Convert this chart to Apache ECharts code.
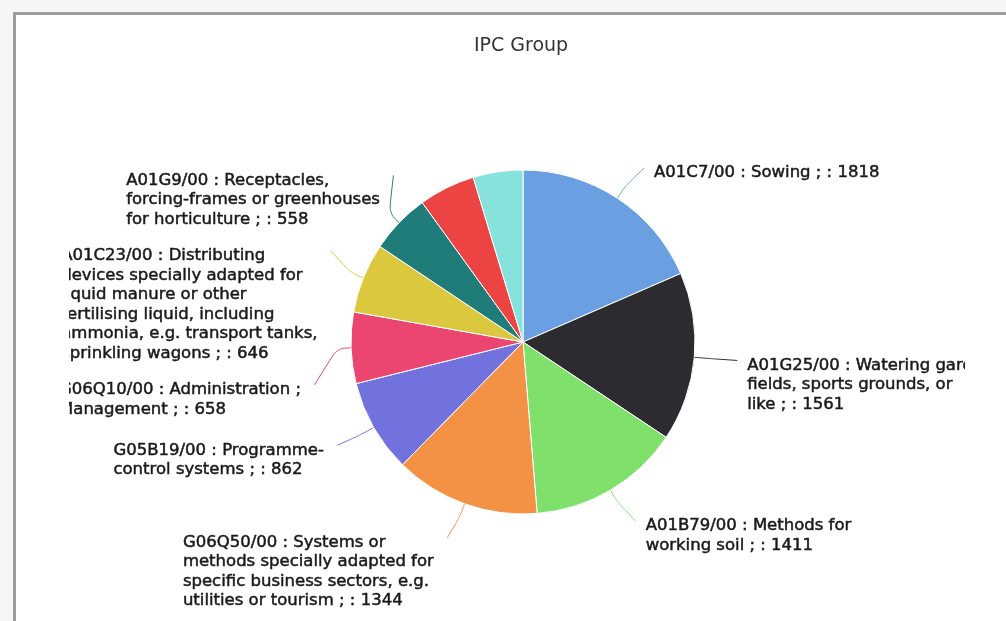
<!DOCTYPE html>
<html><head><meta charset="utf-8">
<script src="https://cdn.jsdelivr.net/npm/echarts@6/dist/echarts.min.js"></script>
<style>
html,body{margin:0;padding:0;background:#f6f6f6;width:1006px;height:621px;overflow:hidden;}
#frame{position:absolute;left:13px;top:12px;width:1100px;height:700px;border-left:3px solid #9c9c9c;border-top:3px solid #9c9c9c;background:#fff;}
#chart{position:absolute;left:69px;top:16px;width:896px;height:605px;}
</style></head><body>
<div id="frame"></div>
<div id="chart"></div>
<script>
const title = 'IPC Group';
const categories = [
  'A01C7/00 : Sowing ;',
  'A01G25/00 : Watering gardens,\nfields, sports grounds, or\nlike ;',
  'A01B79/00 : Methods for\nworking soil ;',
  'G06Q50/00 : Systems or\nmethods specially adapted for\nspecific business sectors, e.g.\nutilities or tourism ;',
  'G05B19/00 : Programme-\ncontrol systems ;',
  'G06Q10/00 : Administration ;\nManagement ;',
  'A01C23/00 : Distributing\ndevices specially adapted for\nliquid manure or other\nfertilising liquid, including\nammonia, e.g. transport tanks,\nsprinkling wagons ;',
  'A01G9/00 : Receptacles,\nforcing-frames or greenhouses\nfor horticulture ;',
  'Group 9 ;',
  'Group 10 ;'
];
const values = [1818, 1561, 1411, 1344, 862, 658, 646, 558, 520, 460];
const labelShown = [true, true, true, true, true, true, true, true, false, false];
const colors = ['#6a9fe2', '#2c2c30', '#80e06c', '#f39245', '#7272df', '#eb4670', '#dcc83e', '#1f7c79', '#ec4343', '#86e2da'];

// pie geometry (chart coordinates)
const CX = 454, CY = 326, RADIUS = 172, DIST = 36, LH = 19.5, GAP = 17, TOPOFF = 4.75;

function computeLabels() {
  const total = values.reduce((a, b) => a + b, 0);
  let acc = 0;
  const items = values.map((v, i) => {
    const theta = (acc + v / 2) / total * 2 * Math.PI;
    acc += v;
    const right = Math.sin(theta) >= 0;
    const lines = (categories[i] + ' : ' + v).split('\n').length;
    const endY = CY - (RADIUS + DIST) * Math.cos(theta);
    return { i, theta, right, h: lines * LH, top: endY - TOPOFF, show: labelShown[i] };
  });
  [true, false].forEach(side => {
    const list = items.filter(it => it.show && it.right === side).sort((a, b) => a.top - b.top);
    for (let k = 0; k < 400; k++) {
      for (let j = 0; j < list.length - 1; j++) {
        const a = list[j], b = list[j + 1];
        const ov = a.top + a.h + GAP - b.top;
        if (ov > 0) { a.top -= ov / 2; b.top += ov / 2; }
      }
    }
  });
  items.forEach(it => {
    it.endY = it.top + TOPOFF;
    const RR = RADIUS + DIST, dy = it.endY - CY;
    const dx = Math.sqrt(Math.max(0, RR * RR - dy * dy));
    it.xc = it.right ? CX + dx : CX - dx;
  });
  return items;
}
const LAYOUT = computeLabels();

const chart = echarts.init(document.getElementById('chart'));
chart.setOption({
  animation: false,
  title: {
    text: title, left: 447, textAlign: 'center', top: 16,
    textStyle: { fontFamily: 'DejaVu Sans', fontSize: 19, fontWeight: 'normal', color: '#333' }
  },
  series: [{
    type: 'pie',
    center: [CX, CY],
    radius: RADIUS,
    startAngle: 90,
    clockwise: true,
    avoidLabelOverlap: false,
    itemStyle: { borderColor: '#fff', borderWidth: 1 },
    label: {
      formatter: '{b} : {c}',
      fontFamily: 'DejaVu Sans', fontSize: 16.5, fontWeight: 'normal', lineHeight: LH,
      color: '#1a1a1a', textBorderColor: '#1a1a1a', textBorderWidth: 0.5
    },
    labelLine: { length: 20, length2: 12, smooth: 0.35, lineStyle: { width: 1 } },
    labelLayout: function (params) {
      const it = LAYOUT[params.dataIndex];
      if (!it || !it.show) return {};
      const w = params.labelRect.width;
      const x = it.right ? it.xc + 17 : it.xc - 18 - w;
      const p0 = [CX + RADIUS * Math.sin(it.theta), CY - RADIUS * Math.cos(it.theta)];
      const p1 = [CX + (RADIUS + 14) * Math.sin(it.theta), CY - (RADIUS + 14) * Math.cos(it.theta)];
      const p2 = [it.right ? it.xc + 7 : it.xc - 5, it.endY];
      return { x: x, y: it.top, align: 'left', verticalAlign: 'top', labelLinePoints: [p0, p1, p2] };
    },
    data: categories.map((n, i) => ({
      name: n, value: values[i],
      itemStyle: { color: colors[i] },
      label: { show: labelShown[i] },
      labelLine: { show: labelShown[i], lineStyle: { color: colors[i] } }
    }))
  }]
});
</script>
</body></html>
